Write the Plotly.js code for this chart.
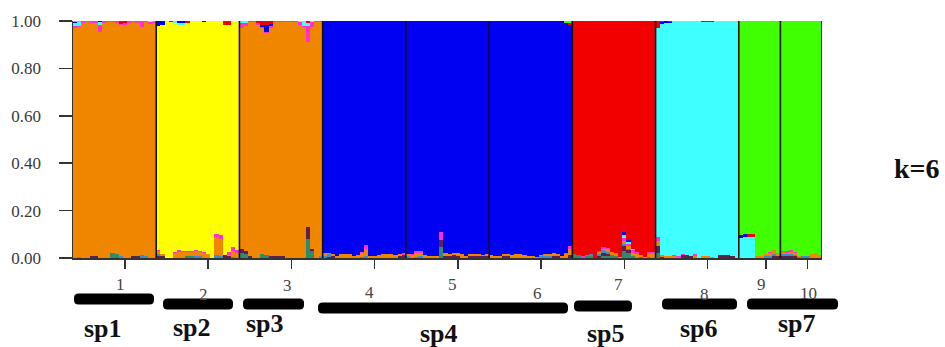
<!DOCTYPE html>
<html>
<head>
<meta charset="utf-8">
<script src="https://cdn.plot.ly/plotly-3.0.1.min.js"></script>
<style>html,body{margin:0;padding:0;background:#fff;}#chart{width:945px;height:347px;}</style>
</head>
<body>
<div id="chart"></div>
<script>
// ---- data: populations ----
const popSizes  = [20,20,20,20,20,20,20,20,10,10];
const popLabels = ['1','2','3','4','5','6','7','8','9','10'];
const popTickIndex = [12,32,52,72,92,112,132,152,166,176];
const speciesLabels = ['sp1','sp2','sp3','sp4','sp5','sp6','sp7'];
const kLabel = 'k=6';

// ---- data: membership coefficients per individual (stack order bottom -> top) ----
const teal = [
 0,0,0,0,0,0,0,0,0,0.02,0.015,0,0,0,0,0,0,0,0,0,
 0,0,0,0,0,0,0,0.01,0.01,0,0,0,0,0,0,0,0,0,0,0,
 0.02,0.015,0,0,0,0.015,0.012,0,0,0,0,0,0,0,0,0,0.08,0.03,0,0,
 0,0,0,0,0,0,0,0,0,0,0,0,0,0,0,0,0,0,0,0,
 0,0,0,0,0,0,0,0,0.048,0,0,0,0,0,0,0,0,0,0,0,
 0,0,0,0,0,0,0,0,0,0,0,0,0,0,0,0,0,0,0,0,
 0.015,0.012,0,0.008,0.01,0,0,0.01,0.008,0.012,0.01,0,0.03,0.02,0.01,0,0.005,0,0,0,
 0.02,0,0,0,0,0,0,0,0,0,0,0,0,0,0,0,0,0,0,0,
 0,0,0,0,0,0,0,0,0,0,
 0,0,0,0,0,0,0,0,0,0];
const maroon = [
 0,0,0,0,0.01,0.008,0,0,0,0,0,0,0,0,0.01,0.01,0,0,0,0,
 0.01,0.008,0,0,0,0,0,0,0,0,0,0,0,0,0,0,0.012,0.008,0,0,
 0.02,0.015,0.01,0,0,0,0,0.01,0.01,0.01,0.008,0,0,0,0,0,0.05,0.01,0,0,
 0,0.005,0.008,0,0,0,0,0,0,0,0,0,0,0,0,0,0,0,0.01,0.012,
 0,0,0,0,0,0,0,0,0.028,0.01,0.01,0.012,0.008,0,0,0.01,0.01,0.01,0.008,0.008,
 0,0,0,0.008,0.008,0,0,0,0,0,0,0,0,0,0,0.01,0.01,0,0,0.012,
 0,0,0,0,0,0,0.01,0.012,0.01,0,0,0,0.02,0.012,0,0,0,0,0,0,
 0.03,0.005,0,0,0,0,0.012,0.012,0.01,0,0,0,0,0,0,0.012,0.012,0.012,0.01,0,
 0,0,0,0,0,0,0,0,0.008,0.01,
 0.008,0.01,0.008,0.008,0,0,0,0,0,0];
const sky = [
 0,0.005,0,0,0,0,0,0,0,0,0,0.008,0,0,0,0,0.012,0.01,0,0,
 0.008,0,0,0,0,0,0,0,0,0.01,0.01,0,0,0,0.012,0.01,0,0,0.005,0,
 0,0,0,0,0,0,0,0,0,0,0,0,0,0,0,0,0,0,0,0.01,
 0.008,0.01,0,0,0,0,0,0,0,0.005,0.01,0,0,0,0,0,0,0,0,0,
 0.008,0,0.005,0.008,0,0,0,0,0,0,0,0,0,0,0,0,0,0,0,0,
 0,0,0,0,0,0,0,0,0,0,0,0,0.008,0.01,0.01,0,0,0,0,0,
 0,0,0,0.005,0.005,0,0.008,0.01,0.008,0,0,0,0.01,0.008,0,0,0,0,0.005,0,
 0,0,0,0,0,0,0,0,0,0,0,0,0,0,0,0,0,0,0,0,
 0,0,0,0,0,0,0.008,0.01,0.01,0,
 0.008,0.008,0.01,0.005,0.005,0.008,0.008,0,0,0];
const orange = [
 0.972,0.97,0.992,0.995,0.982,0.982,0.955,0.992,0.995,0.975,0.977,0.975,0.985,0.992,0.985,0.982,0.963,0.985,0.987,0.99,
 0.01,0.01,0,0,0.02,0.025,0.025,0.015,0.015,0.018,0.015,0.02,0.015,0,0.075,0.07,0,0.005,0.025,0.02,
 0.93,0.95,0.985,0.995,0.985,0.955,0.938,0.962,0.985,0.985,0.987,0.995,0.995,0.995,0.985,0.975,0.78,0.935,0.995,0.985,
 0.012,0.008,0.008,0.01,0.015,0.015,0.015,0.01,0.012,0.015,0.03,0.01,0.008,0.012,0.015,0.015,0.015,0.012,0.005,0,
 0.01,0.012,0.015,0.015,0.012,0.01,0.008,0.01,0,0.01,0.008,0.01,0.012,0.015,0.01,0.005,0.005,0.005,0.005,0.01,
 0.012,0.01,0.01,0.008,0.008,0.012,0.015,0.015,0.012,0.01,0.008,0.005,0.005,0.005,0.008,0.01,0.008,0.01,0.015,0.025,
 0,0,0,0,0,0,0.008,0.008,0.01,0.015,0.012,0.005,0.01,0.01,0.01,0.015,0.008,0.005,0.012,0.02,
 0.02,0.008,0.008,0.01,0.008,0.005,0,0,0,0.01,0,0.008,0.008,0.005,0,0,0,0,0,0,
 0,0,0,0,0.008,0.01,0.008,0.01,0.015,0.01,
 0.008,0.005,0.008,0.01,0.005,0,0,0.015,0.02,0.012];
const magenta = [
 0.008,0.005,0.008,0.005,0.008,0.01,0.03,0.008,0.005,0.005,0.008,0.005,0.005,0.008,0.005,0.008,0.025,0.005,0.008,0.005,
 0.006,0,0,0,0.006,0.008,0.006,0.006,0.006,0.006,0.006,0.006,0.004,0,0.015,0.015,0,0.012,0.015,0.014,
 0.02,0.01,0.005,0.005,0.005,0.005,0.005,0.008,0.005,0.005,0.005,0.005,0.005,0.005,0.01,0.005,0.07,0.02,0.005,0.005,
 0,0,0,0,0,0,0,0,0,0.005,0.015,0,0,0,0,0,0,0,0,0.008,
 0,0.005,0.01,0.008,0,0,0,0,0.035,0,0,0,0,0,0,0,0,0,0,0,
 0,0,0,0,0,0,0,0,0,0,0,0,0,0,0,0,0,0,0.005,0.015,
 0,0,0.01,0,0,0,0.005,0.005,0.005,0,0,0,0.015,0.008,0.015,0.01,0,0,0.01,0.005,
 0.02,0,0,0,0.005,0.005,0.005,0,0,0.005,0,0,0,0,0,0,0,0,0,0,
 0,0,0,0,0,0,0,0.005,0,0,
 0.006,0.008,0.006,0.004,0,0,0,0,0,0];
const yellow = [
 0,0,0,0,0,0,0,0,0,0,0,0,0,0,0,0,0,0,0,0,
 0.946,0.967,1,0.995,0.966,0.949,0.953,0.961,0.969,0.966,0.969,0.968,0.981,1,0.898,0.905,0.973,0.96,0.955,0.966,
 0,0,0,0,0,0,0,0,0,0,0,0,0,0,0,0,0,0,0,0,
 0,0,0,0,0,0,0,0,0,0,0,0,0,0,0,0,0,0,0,0,
 0,0,0,0,0,0,0,0,0,0,0,0,0,0,0,0,0,0,0,0,
 0,0,0,0,0,0,0,0,0,0,0,0,0,0,0,0,0,0,0,0,
 0,0,0,0,0,0,0,0,0,0,0,0,0,0,0,0,0,0,0,0,
 0,0,0,0,0,0,0,0,0,0,0,0,0,0,0,0,0,0,0,0,
 0,0,0,0,0,0,0,0,0,0,
 0,0,0,0,0,0,0,0,0,0];
const cyan = [
 0.01,0.015,0,0,0,0,0.01,0,0,0,0,0,0,0,0,0,0,0,0.005,0,
 0,0,0,0,0.008,0.01,0.008,0,0,0,0,0,0,0,0,0,0,0,0,0,
 0.01,0.01,0,0,0,0,0,0,0,0,0,0,0,0,0.005,0.02,0.01,0.005,0,0,
 0,0,0,0,0,0,0,0,0,0,0,0,0,0,0,0,0,0,0,0,
 0,0,0,0,0,0,0,0,0,0,0,0,0,0,0,0,0,0,0,0,
 0,0,0,0,0,0,0,0,0,0,0,0,0,0,0,0,0,0,0,0,
 0,0,0,0,0,0,0,0,0,0,0,0,0.01,0.008,0.005,0,0,0,0,0,
 0.88,0.974,0.984,0.98,0.987,0.99,0.983,0.988,0.99,0.985,1,0.987,0.987,0.99,1,0.988,0.988,0.988,0.99,1,
 0.085,0.09,0.09,0.09,0,0,0,0,0,0,
 0,0,0,0,0,0,0,0,0,0];
const blue = [
 0.005,0,0,0,0,0,0.005,0,0,0,0,0,0,0,0,0,0,0,0,0,
 0.02,0.015,0,0,0,0.008,0.008,0,0,0,0,0.006,0,0,0,0,0,0,0,0,
 0,0,0,0,0,0.01,0.03,0.008,0,0,0,0,0,0,0,0,0,0,0,0,
 0.98,0.977,0.984,0.99,0.985,0.985,0.985,0.99,0.988,0.975,0.945,0.99,0.992,0.988,0.985,0.985,0.985,0.988,0.985,0.98,
 0.982,0.983,0.97,0.969,0.988,0.99,0.992,0.99,0.889,0.98,0.982,0.978,0.98,0.985,0.99,0.985,0.985,0.985,0.987,0.982,
 0.988,0.99,0.99,0.984,0.984,0.988,0.985,0.985,0.988,0.99,0.992,0.995,0.987,0.985,0.982,0.98,0.982,0.99,0.972,0.93,
 0,0,0,0,0,0,0,0,0,0,0,0,0.015,0.01,0,0,0,0,0,0,
 0,0.008,0.008,0.005,0,0,0,0,0,0,0,0,0,0,0,0,0,0,0,0,
 0.01,0.01,0,0,0,0,0,0,0,0,
 0,0,0,0,0,0,0,0,0,0];
const red = [
 0,0,0,0,0,0,0,0,0,0,0,0.012,0.01,0,0,0,0,0,0,0,
 0,0,0,0.005,0,0,0,0.008,0,0,0,0,0,0,0,0,0.015,0.015,0,0,
 0,0,0,0,0.01,0.015,0.015,0.012,0,0,0,0,0,0,0,0,0.01,0,0,0,
 0,0,0,0,0,0,0,0,0,0,0,0,0,0,0,0,0,0,0,0,
 0,0,0,0,0,0,0,0,0,0,0,0,0,0,0,0,0,0,0,0,
 0,0,0,0,0,0,0,0,0,0,0,0,0,0,0,0,0,0,0,0.008,
 0.985,0.988,0.99,0.987,0.985,1,0.969,0.955,0.959,0.973,0.978,0.995,0.89,0.924,0.96,0.975,0.987,0.995,0.973,0.975,
 0.03,0.005,0,0.005,0,0,0,0,0,0,0,0.005,0.005,0.005,0,0,0,0,0,0,
 0,0,0.01,0.01,0,0,0,0,0,0,
 0,0,0,0,0,0,0,0,0,0];
const green = [
 0.005,0.005,0,0,0,0,0,0,0,0,0,0,0,0,0,0,0,0,0,0.005,
 0,0,0,0,0,0,0,0,0,0,0,0,0,0,0,0,0,0,0,0,
 0,0,0,0,0,0,0,0,0,0,0,0,0,0,0,0,0,0,0,0,
 0,0,0,0,0,0,0,0,0,0,0,0,0,0,0,0,0,0,0,0,
 0,0,0,0,0,0,0,0,0,0,0,0,0,0,0,0,0,0,0,0,
 0,0,0,0,0,0,0,0,0,0,0,0,0,0,0,0,0,0,0.008,0.01,
 0,0,0,0,0,0,0,0,0,0,0,0,0,0,0,0,0,0,0,0,
 0,0,0,0,0,0,0,0,0,0,0,0,0,0,0,0,0,0,0,0,
 0.905,0.9,0.9,0.9,0.992,0.99,0.984,0.975,0.967,0.98,
 0.97,0.969,0.968,0.973,0.99,0.992,0.992,0.985,0.98,0.988];

// ---- styles ----
const series = [
  {name:'teal',    y:teal,    color:'#2E8B6C'},
  {name:'maroon',  y:maroon,  color:'#5C1F4E'},
  {name:'sky',     y:sky,     color:'#3A8DC6'},
  {name:'orange',  y:orange,  color:'#F08600'},
  {name:'magenta', y:magenta, color:'#FF30CF'},
  {name:'yellow',  y:yellow,  color:'#FFFF00'},
  {name:'cyan',    y:cyan,    color:'#40FFFF'},
  {name:'blue',    y:blue,    color:'#0000F2'},
  {name:'red',     y:red,     color:'#F20000'},
  {name:'green',   y:green,   color:'#40FF00'}
];

const nInd = popSizes.reduce((a,b)=>a+b,0);
const xs = Array.from({length:nInd},(_,i)=>i);

const traces = series.map(s => ({
  type:'bar', x:xs, y:s.y, name:s.name,
  marker:{color:s.color, line:{width:0}},
  hoverinfo:'skip', showlegend:false
}));

// layout geometry (pixel helpers)
const L=73, R=822, T=21, B=258;
const PX = px => (px-L)/(R-L);
const PY = py => (B-py)/(B-T);

const shapes = [];
// population separators
let cum = 0;
popSizes.forEach(n => {
  cum += n;
  shapes.push({type:'line', xref:'x', yref:'y', x0:cum-0.5, x1:cum-0.5, y0:0, y1:1,
               line:{color:'#111', width:1.6}, layer:'above'});
});

// species bars (rounded thick black bars)
const spBars = [[74,154,299],[163,233,304],[243,304,304],[318,568,308],[574,632,306],[662,737,304],[747,838,304]];
function roundBar(x1,x2,yc,h,r){
  const yt=yc-h/2, yb=yc+h/2;
  const p = (x,y)=>PX(x)+','+PY(y);
  return 'M'+p(x1+r,yt)+' L'+p(x2-r,yt)+' Q'+p(x2,yt)+' '+p(x2,yt+r)+' L'+p(x2,yb-r)+
         ' Q'+p(x2,yb)+' '+p(x2-r,yb)+' L'+p(x1+r,yb)+' Q'+p(x1,yb)+' '+p(x1,yb-r)+
         ' L'+p(x1,yt+r)+' Q'+p(x1,yt)+' '+p(x1+r,yt)+' Z';
}
spBars.forEach(b => shapes.push({type:'path', xref:'paper', yref:'paper',
  path:roundBar(b[0],b[1],b[2],11,4.5), fillcolor:'#000', line:{width:0}, layer:'above'}));

const annotations = [];
// population number labels (staggered)
const popLabelPos = [[120.5,284],[203,294],[287.5,285],[369,292],[452.5,284],[537,293],[618,284],[704,294],[761.5,284],[808.5,293]];
popLabels.forEach((t,i) => annotations.push({
  text:t, xref:'paper', yref:'paper', x:PX(popLabelPos[i][0]), y:PY(popLabelPos[i][1]),
  xanchor:'center', yanchor:'middle', showarrow:false,
  font:{family:'Liberation Serif, Times New Roman, serif', size:17, color:'#444'}
}));
// species labels
const spTextPos = [[103,328],[192,327],[265,323],[439,333],[606,333],[699,328],[797,323]];
speciesLabels.forEach((t,i) => annotations.push({
  text:'<b>'+t+'</b>', xref:'paper', yref:'paper', x:PX(spTextPos[i][0]), y:PY(spTextPos[i][1]),
  xanchor:'center', yanchor:'middle', showarrow:false,
  font:{family:'Liberation Serif, Times New Roman, serif', size:26, color:'#111'}
}));
annotations.push({text:'<b>'+kLabel+'</b>', xref:'paper', yref:'paper', x:PX(917), y:PY(168),
  xanchor:'center', yanchor:'middle', showarrow:false,
  font:{family:'Liberation Serif, Times New Roman, serif', size:28, color:'#111'}});

const layout = {
  width:945, height:347,
  margin:{l:L, r:945-R, t:T, b:347-B, pad:0},
  paper_bgcolor:'#fff', plot_bgcolor:'#fff',
  barmode:'stack', bargap:0,
  showlegend:false,
  xaxis:{range:[-0.5,nInd-0.5], showgrid:false, zeroline:false,
         showline:true, linecolor:'#333', linewidth:1.5,
         tickmode:'array', tickvals:popTickIndex, ticktext:popLabels, showticklabels:false,
         ticks:'outside', ticklen:9, tickwidth:1.5, tickcolor:'#333', fixedrange:true},
  yaxis:{range:[0,1], showgrid:false, zeroline:false,
         showline:true, linecolor:'#333', linewidth:1.5,
         tickmode:'array', tickvals:[0,0.2,0.4,0.6,0.8,1.0],
         ticktext:['0.00','0.20','0.40','0.60','0.80','1.00'],
         ticks:'outside', ticklen:13, tickwidth:1.5, tickcolor:'#333',
         ticklabelstandoff:14,
         tickfont:{family:'Liberation Serif, Times New Roman, serif', size:17, color:'#3a3a3a'},
         fixedrange:true},
  shapes:shapes,
  annotations:annotations
};

Plotly.newPlot('chart', traces, layout, {staticPlot:true, displayModeBar:false});
</script>
</body>
</html>
